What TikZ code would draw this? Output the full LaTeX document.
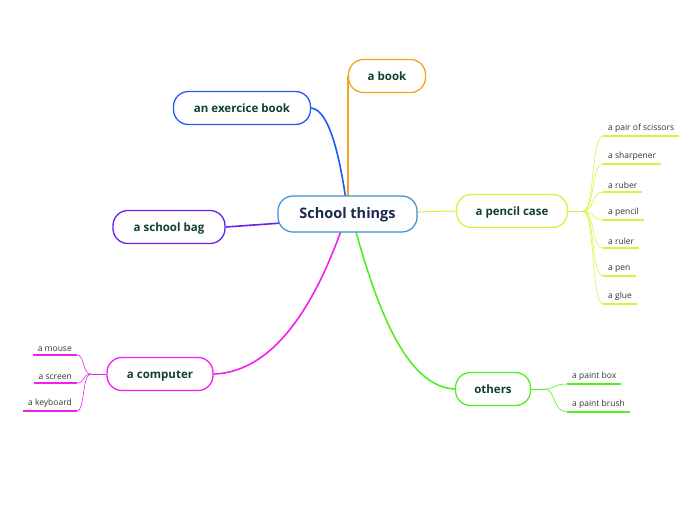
\documentclass[tikz,border=0pt]{standalone}
\usepackage{fontspec}
\setmainfont{Open Sans}
\definecolor{cblue}{HTML}{3A8FD0}
\definecolor{cnavy}{HTML}{1B2B4F}
\definecolor{ctext}{HTML}{12402F}
\definecolor{corange}{HTML}{F7A21B}
\definecolor{cexo}{HTML}{1E5AF5}
\definecolor{cbag}{HTML}{6A1DF0}
\definecolor{cpen}{HTML}{D4F53C}
\definecolor{ccomp}{HTML}{F020F0}
\definecolor{cother}{HTML}{50F020}
\definecolor{cleaf}{HTML}{333333}
\tikzset{
  mainbox/.style={draw=#1, line width=1.3pt, rounded corners=15pt, fill=white,
    text=ctext, font=\fontsize{11.5}{13}\selectfont\bfseries, minimum height=33pt, inner sep=2pt,
    text height=0.8em, text depth=0pt},
  conn/.style={draw=#1, line width=1.6pt},
  leafline/.style={draw=#1, line width=0.6pt},
  leaftext/.style={text=cleaf, font=\fontsize{8.5}{9}\selectfont, inner xsep=5pt, inner ysep=3pt},
  uline/.style={draw=#1, line width=1.8pt},
}
\begin{document}
\begin{tikzpicture}[x=1pt,y=-1pt]
\useasboundingbox (0,0) rectangle (696,520);
% main boxes
\node[mainbox=corange, minimum width=77pt] (book) at (387,76) {a book};
\node[mainbox=cexo, minimum width=137pt] (exo) at (242,108) {an exercice book};
\node[mainbox=cbag, minimum width=112pt] (bag) at (169,227) {a school bag};
\node[mainbox=cpen, minimum width=111pt] (pc) at (512,211) {a pencil case};
\node[mainbox=ccomp, minimum width=106pt] (comp) at (160,374) {a computer};
\node[mainbox=cother, minimum width=75pt] (oth) at (493,389) {others};
% connectors (drawn before center so center covers the ends)
\draw[conn=corange] (348,200) -- (348,88) .. controls (348,84) .. (book.west);
\coordinate (ct1) at (346,200);
\draw[conn=cexo] (ct1) .. controls (340,160) and (330,110) .. (exo.east);
\coordinate (ct2) at (282,223);
\draw[conn=cbag] (ct2) -- (bag.east);
\coordinate (ct3) at (414,212);
\draw[conn=cpen, line width=1pt] (ct3) -- (pc.west);
\coordinate (ct4) at (342,228);
\draw[conn=ccomp] (ct4) .. controls (320,290) and (280,372) .. (comp.east);
\coordinate (ct5) at (355,228);
\draw[conn=cother] (ct5) .. controls (380,320) and (410,387) .. (oth.west);
\node[draw=cblue, line width=1.2pt, rounded corners=15pt, fill=white, text=cnavy,
  font=\fontsize{14.5}{16}\selectfont\bfseries, minimum width=139pt, minimum height=36pt,
  text height=0.82em, text depth=0pt] (c) at (347.5,214) {School things};
% pencil case leaves
\coordinate (pb) at (583,211);
\draw[leafline=cpen] (pc.east) -- (pb);
\foreach \n/\y/\t in {p1/136/a pair of scissors, p2/164/a sharpener, p3/192/a ruber, p4/220/a pencil, p5/248/a ruler, p6/276/a pen, p7/304/a glue}{
  \node[leaftext, anchor=south west] (\n) at (603,\y) {\t};
  \draw[uline=cpen] (\n.south west) -- (\n.south east);
  \draw[leafline=cpen] (pb) .. controls (595,211) and (591,\y) .. (\n.south west);
}
% computer leaves
\coordinate (cb) at (91,374);
\draw[leafline=ccomp] (comp.west) -- (cb);
\foreach \n/\y/\t in {k1/355/a mouse, k2/383/a screen, k3/411/a keyboard}{
  \node[leaftext, anchor=south east] (\n) at (77,\y) {\t};
  \draw[uline=ccomp] (\n.south west) -- (\n.south east);
  \draw[leafline=ccomp] (cb) .. controls (82,374) and (85,\y) .. (\n.south east);
}
% others leaves
\coordinate (ob) at (545,389);
\draw[leafline=cother] (oth.east) -- (ob);
\foreach \n/\y/\t in {o1/384/a paint box, o2/412/a paint brush}{
  \node[leaftext, anchor=south west] (\n) at (567,\y) {\t};
  \draw[uline=cother] (\n.south west) -- (\n.south east);
  \draw[leafline=cother] (ob) .. controls (555,389) and (553,\y) .. (\n.south west);
}
\end{tikzpicture}
\end{document}
